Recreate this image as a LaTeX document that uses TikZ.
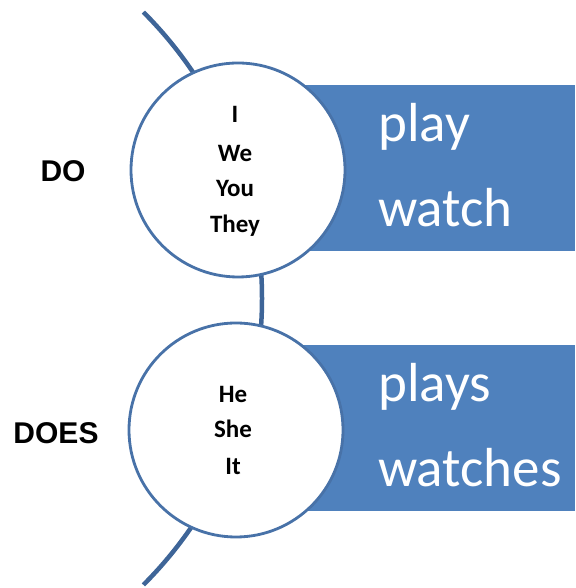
\documentclass[tikz,border=0pt]{standalone}
\usepackage{fontspec}
\setmainfont{Carlito}
\newfontfamily\arialfont{Liberation Sans}
\definecolor{boxblue}{RGB}{79,129,189}
\definecolor{arcblue}{RGB}{62,101,152}
\definecolor{ringblue}{RGB}{72,114,168}
\begin{document}
\begin{tikzpicture}[x=1pt,y=1pt,
  bar/.style={rectangle, fill=boxblue, draw=none, inner sep=0pt, minimum width=275pt, minimum height=166pt, anchor=north west},
  ring/.style={circle, fill=white, draw=ringblue, line width=2.8pt, minimum size=214pt, inner sep=0pt},
  pron/.style={anchor=base, inner sep=0pt, font=\fontsize{25}{25}\selectfont\bfseries},
  verb/.style={anchor=base west, inner sep=0pt, text=white, font=\fontsize{55}{55}\selectfont},
  aux/.style={anchor=base, inner sep=0pt, font=\arialfont\fontsize{30}{30}\selectfont\bfseries}]
\useasboundingbox (0,0) rectangle (575,588);
% background arc
\coordinate (arcC) at (-143,289.5);
\draw[arcblue, line width=4.5pt] ([shift={(-45:405)}]arcC) arc[start angle=-45, end angle=45, radius=405pt];
% bars
\node[bar] (bar1) at (300,503) {};
\node[bar] (bar2) at (300,243) {};
% circles
\node[ring] (c1) at (238,418) {};
\node[ring] (c2) at (236,158) {};
% pronouns
\node[pron] (p1) at (235,465) {I};
\node[pron] (p2) at (235,426) {We};
\node[pron] (p3) at (235,391) {You};
\node[pron] (p4) at (235,355) {They};
\node[pron] (p5) at (233,185) {He};
\node[pron] (p6) at (233,150) {She};
\node[pron] (p7) at (233,113) {It};
% verbs
\node[verb] (v1) at (378,446) {play};
\node[verb] (v2) at (378,361) {watch};
\node[verb] (v3) at (378,186) {plays};
\node[verb] (v4) at (378,101) {watches};
% aux
\node[aux] (a1) at (63,406) {DO};
\node[aux] (a2) at (56,144) {DOES};
\end{tikzpicture}
\end{document}
